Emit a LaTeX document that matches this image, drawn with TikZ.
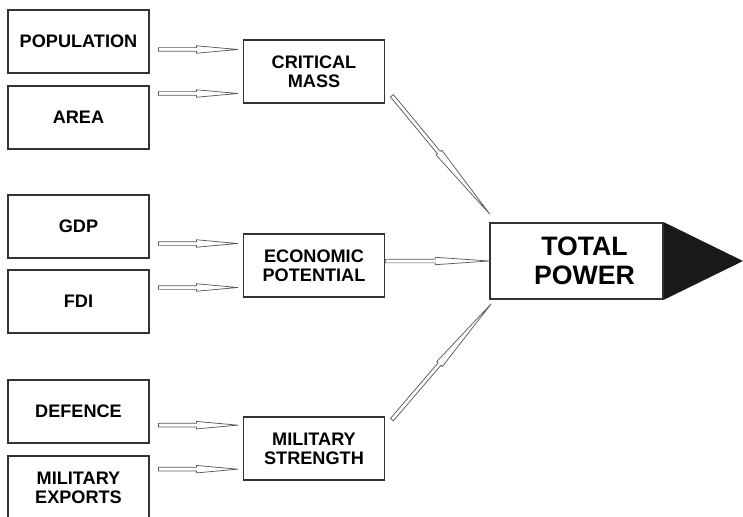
\documentclass[tikz,border=0pt]{standalone}
\usepackage{fontspec}
\setmainfont{Liberation Sans}
\usetikzlibrary{calc}

\tikzset{
  box/.style={draw=black!80, line width=1.1pt, fill=white, align=center,
    minimum width=105.75pt, minimum height=47.25pt, inner sep=2pt,
    font=\fontsize{13.6}{14.2}\selectfont\bfseries},
  tpbox/.style={box, line width=1.2pt, minimum width=129.75pt, minimum height=57pt,
    font=\fontsize{20}{22}\selectfont\bfseries},
  feed/.style={draw=black!65, line width=0.55pt, fill=white, line join=round,
    to path={
      ($(\tikztostart)$) coordinate (f0)
      ($(\tikztotarget)$) coordinate (f1)
      ($(f0)!1.4pt!90:(f1)$) -- ($(f0)!0.48!(f1)!1.4pt!90:(f1)$)
      -- ($(f0)!0.48!(f1)!2.8pt!90:(f1)$) -- (f1)
      -- ($(f0)!0.48!(f1)!2.8pt!-90:(f1)$) -- ($(f0)!0.48!(f1)!1.4pt!-90:(f1)$)
      -- ($(f0)!1.4pt!-90:(f1)$) -- cycle}}
}

\begin{document}
\begin{tikzpicture}[x=0.75pt, y=-0.75pt]
    \useasboundingbox (0,0) rectangle (743,517);
    % inputs
    \node [box] (pop)  at (78.5, 41.5)  {POPULATION};
    \node [box] (area) at (78.5, 117.5) {AREA};
    \node [box] (gdp)  at (78.5, 226.5) {GDP};
    \node [box] (fdi)  at (78.5, 301.5) {FDI};
    \node [box] (def)  at (78.5, 411.5) {DEFENCE};
    \node [box] (mex)  at (78.5, 487.5) {MILITARY\\EXPORTS};
    % groups
    \node [box] (cm) at (314, 71.5)  {CRITICAL\\MASS};
    \node [box] (ep) at (314, 265.5) {ECONOMIC\\POTENTIAL};
    \node [box] (ms) at (314, 448.5) {MILITARY\\STRENGTH};
    % total
    \coordinate (tip) at (743, 261);
    \node [tpbox] (tp) at (576.5, 261) {\hspace*{12pt}TOTAL\\\hspace*{12pt}POWER};
    \fill [black!90] (tp.north east) -- (tip) -- (tp.south east) -- cycle;
    % critical mass
    \coordinate (cm-a) at ([shift={(-3.75pt,16.5pt)}]cm.west);
    \coordinate (cm-b) at ([shift={(-3.75pt,-16.5pt)}]cm.west);
    \draw [feed] ($(pop.east |- cm-a)+(6.5pt,0)$) to (cm-a);
    \draw [feed] ($(area.east |- cm-b)+(6.5pt,0)$) to (cm-b);
    % economic potential
    \coordinate (ep-a) at ([shift={(-3.75pt,16.5pt)}]ep.west);
    \coordinate (ep-b) at ([shift={(-3.75pt,-16.5pt)}]ep.west);
    \draw [feed] ($(gdp.east |- ep-a)+(6.5pt,0)$) to (ep-a);
    \draw [feed] ($(fdi.east |- ep-b)+(6.5pt,0)$) to (ep-b);
    % military strength
    \coordinate (ms-a) at ([shift={(-3.75pt,17.5pt)}]ms.west);
    \coordinate (ms-b) at ([shift={(-3.75pt,-15.5pt)}]ms.west);
    \draw [feed] ($(def.east |- ms-a)+(6.5pt,0)$) to (ms-a);
    \draw [feed] ($(mex.east |- ms-b)+(6.5pt,0)$) to (ms-b);
    % into total power
    \draw [feed] ([shift={(5pt,6pt)}]cm.south east) to ([shift={(0.5pt,6pt)}]tp.north west);
    \draw [feed] (ep.east |- tp.west) to (tp.west);
    \draw [feed] ([shift={(5pt,-2.5pt)}]ms.north east) to ([shift={(1.5pt,-3pt)}]tp.south west);
\end{tikzpicture}
\end{document}
